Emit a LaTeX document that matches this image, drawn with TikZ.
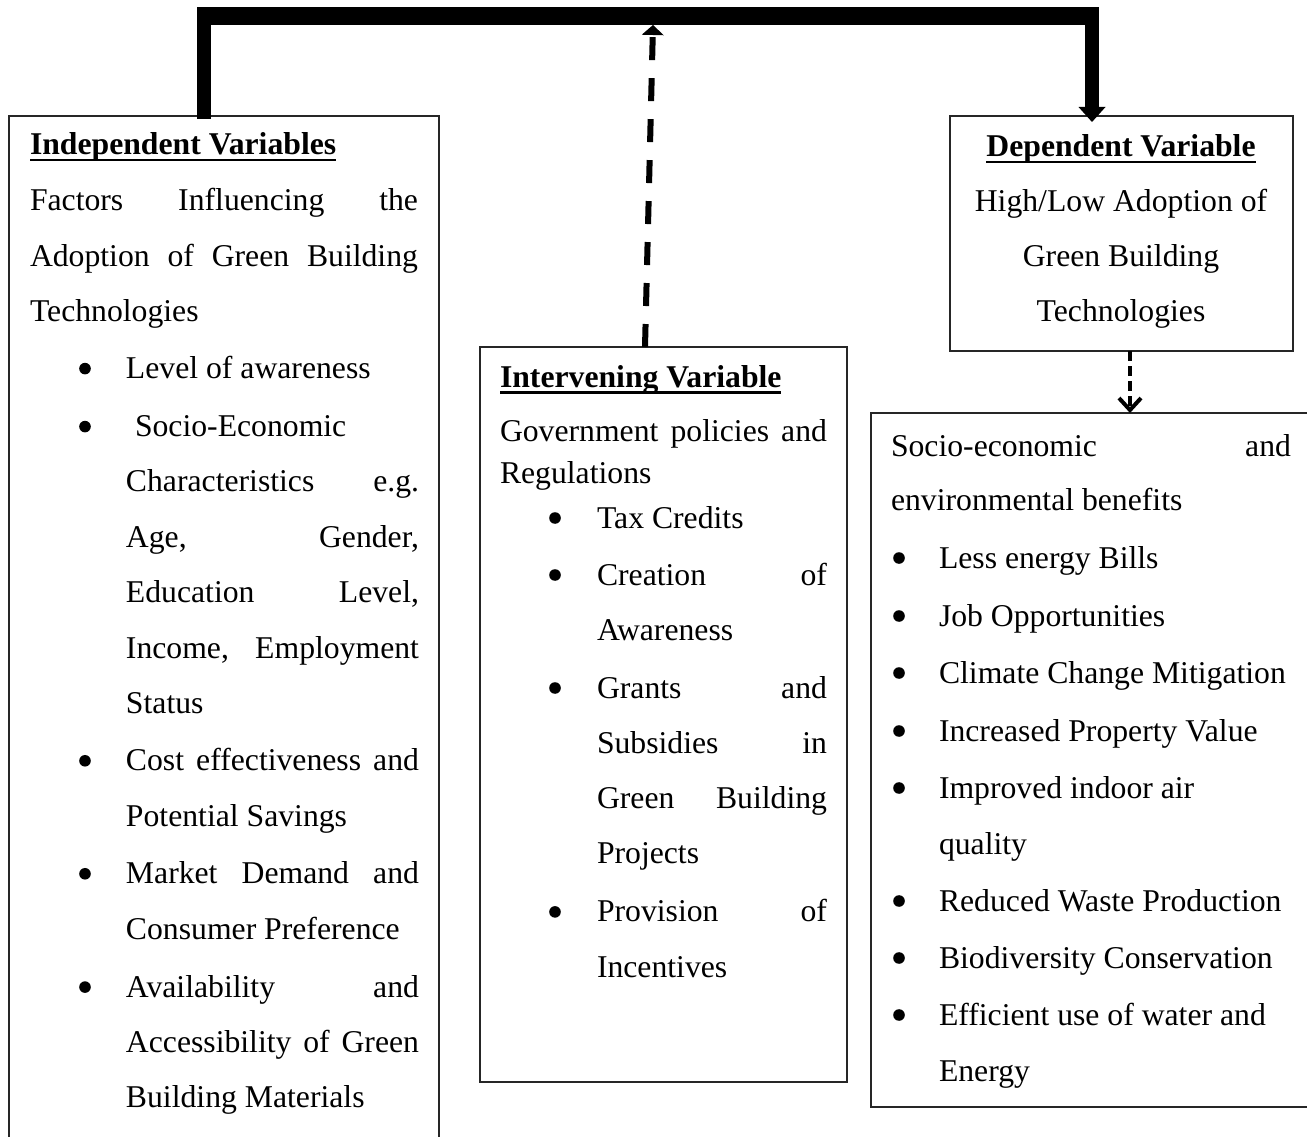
\documentclass[tikz,border=0pt]{standalone}
\usepackage{fontspec}
\setmainfont{Liberation Serif}
\usetikzlibrary{arrows.meta}
\newlength\bofs
\newlength\tofs
\newcommand{\bigdot}{\tikz[baseline=0pt]\fill[black] (0pt,10pt) circle[radius=5.8pt];}
\newcommand{\bitem}[1]{\leavevmode\makebox[\tofs][l]{\hspace*{\bofs}\bigdot}#1}
\newcommand{\contline}[1]{\leavevmode\hspace*{\tofs}#1}
\newcommand{\justline}[2]{\leavevmode\makebox[#1][s]{#2}}
\newcommand{\hdul}[1]{\leavevmode\setbox0=\hbox{#1}\rlap{\rule[-6.5pt]{\wd0}{2.3pt}}\box0}
\tikzset{
  box/.style={draw=black!85, line width=1.3pt, inner sep=0pt, outer sep=0pt, rectangle},
  txt/.style={anchor=base west, inner sep=0pt, outer sep=0pt},
  thickconn/.style={line width=14pt},
  bigdash/.style={line width=6pt, dash pattern=on 23pt off 18pt},
  smalldash/.style={line width=4pt, dash pattern=on 10pt off 5pt}
}
\begin{document}
\begin{tikzpicture}[x=1pt,y=-1pt]
\useasboundingbox (0,0) rectangle (1307,1137);
\clip (0,0) rectangle (1307,1137);
\fill[white] (0,0) rectangle (1307,1137);

% boxes
\node[box, minimum width=430pt, minimum height=1040pt] (ind) at (224,636) {};
\node[box, minimum width=367pt, minimum height=735pt] (int) at (663.5,714.5) {};
\node[box, minimum width=343pt, minimum height=235pt] (dep) at (1121.5,233.5) {};
\node[box, minimum width=441pt, minimum height=694pt] (ben) at (1091.5,760) {};

% top bar
\node[fill=black, inner sep=0pt, outer sep=0pt, minimum width=902pt, minimum height=18pt] (bar) at (648,16) {};

% texts
\node[txt] (indtxt) at (30,155) {\begin{minipage}[t]{388pt}
\fontsize{31.7pt}{55.3pt}\selectfont
\setlength\bofs{49.2pt}\setlength\tofs{96pt}%
\hdul{\textbf{Independent Variables}}\\
\justline{388pt}{Factors Influencing the}\\[0.7pt]
\justline{388pt}{Adoption of Green Building}\\
Technologies\\[1.7pt]
\bitem{Level of awareness}\\[2.7pt]
\bitem{\hspace*{9pt}Socio-Economic}\\
\contline{\justline{293pt}{Characteristics e.g.}}\\
\contline{\justline{293pt}{Age, Gender,}}\\
\contline{\justline{293pt}{Education Level,}}\\[0.7pt]
\contline{\justline{293pt}{Income, Employment}}\\
\contline{Status}\\[1.7pt]
\bitem{\justline{293pt}{Cost effectiveness and}}\\[0.7pt]
\contline{Potential Savings}\\[1.7pt]
\bitem{\justline{293pt}{Market Demand and}}\\
\contline{Consumer Preference}\\[2.7pt]
\bitem{\justline{293pt}{Availability and}}\\
\contline{\justline{293pt}{Accessibility of Green}}\\
\contline{Building Materials}
\end{minipage}};

\node[txt] (inttxt) at (500,387) {\begin{minipage}[t]{327pt}
\fontsize{31.7pt}{55.3pt}\selectfont
\setlength\bofs{49.2pt}\setlength\tofs{97pt}%
\hdul{\textbf{Intervening Variable}}\\[-1.3pt]
\justline{327pt}{Government policies and}\\[-13.3pt]
Regulations\\[-10.3pt]
\bitem{Tax Credits}\\[1.7pt]
\bitem{\justline{230pt}{Creation of}}\\[-0.3pt]
\contline{Awareness}\\[2.7pt]
\bitem{\justline{230pt}{Grants and}}\\
\contline{\justline{230pt}{Subsidies in}}\\
\contline{\justline{230pt}{Green Building}}\\
\contline{Projects}\\[2.7pt]
\bitem{\justline{230pt}{Provision of}}\\
\contline{Incentives}
\end{minipage}};

\node[anchor=base, inner sep=0pt, outer sep=0pt] (deptxt) at (1121,157) {\begin{minipage}[t]{330pt}
\centering
\fontsize{31.7pt}{55pt}\selectfont
\hdul{\textbf{Dependent Variable}}\\
High/Low Adoption of\\
Green Building\\
Technologies
\end{minipage}};

\node[txt] (bentxt) at (891,456) {\begin{minipage}[t]{400pt}
\fontsize{31.7pt}{55.3pt}\selectfont
\setlength\bofs{2.2pt}\setlength\tofs{48pt}%
\justline{400pt}{Socio-economic and}\\[-1.3pt]
environmental benefits\\[2.7pt]
\bitem{Less energy Bills}\\[2.7pt]
\bitem{Job Opportunities}\\[1.7pt]
\bitem{Climate Change Mitigation}\\[2.7pt]
\bitem{Increased Property Value}\\[1.7pt]
\bitem{Improved indoor air}\\[0.7pt]
\contline{quality}\\[1.7pt]
\bitem{Reduced Waste Production}\\[1.7pt]
\bitem{Biodiversity Conservation}\\[1.7pt]
\bitem{Efficient use of water and}\\[0.7pt]
\contline{Energy}
\end{minipage}};

% connectors
\draw[thickconn, shorten >=-3pt] ([xshift=7pt]bar.west) -- ([xshift=7pt]bar.west |- ind.north);
\draw[thickconn, shorten >=-6pt, -{Triangle[length=15pt,width=27pt,line width=0pt]}]
  ([xshift=-7pt]bar.east) -- ([xshift=-7pt]bar.east |- dep.north);
\draw[bigdash, -{Triangle[length=10pt,width=22pt,line width=0pt]}]
  ([xshift=-18.5pt]int.north) -- ([xshift=5pt]bar.south);
\draw[smalldash, -{Straight Barb[length=12pt,width=22pt]}]
  ([xshift=8.5pt]dep.south) -- ([xshift=8.5pt]dep.south |- ben.north);
\end{tikzpicture}
\end{document}
